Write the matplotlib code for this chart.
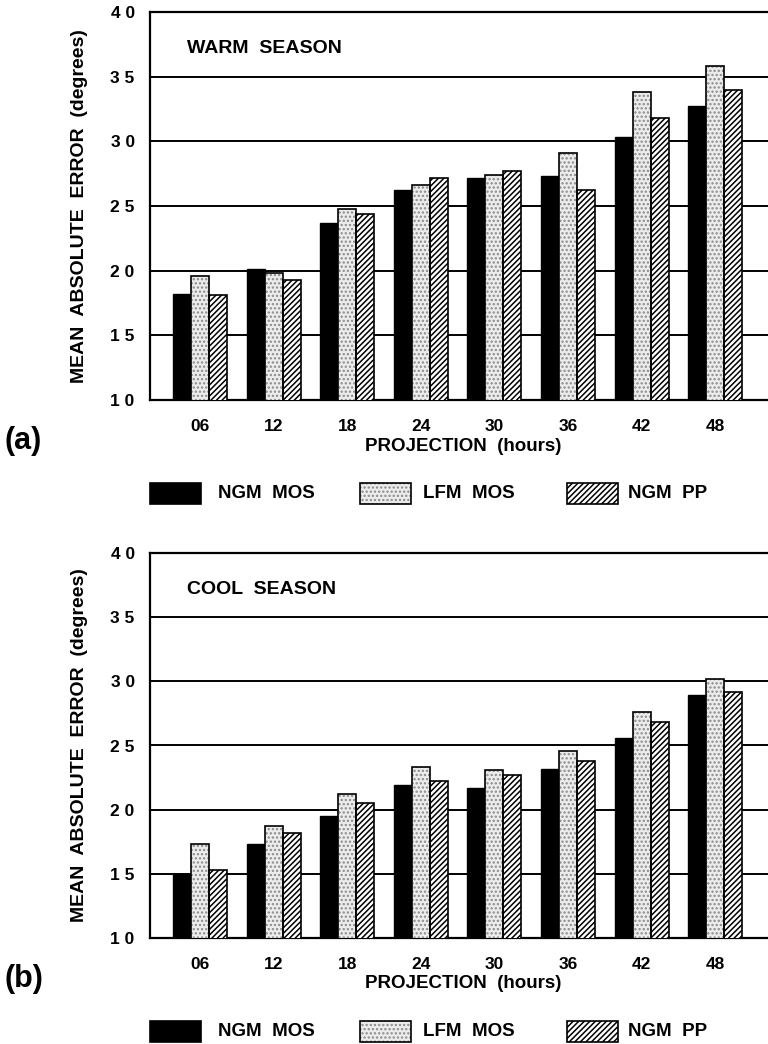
import numpy as np
import matplotlib
matplotlib.use("Agg")
import matplotlib.pyplot as plt
from matplotlib.patches import Rectangle

plt.rcParams["font.family"] = ["Liberation Sans", "DejaVu Sans"]
plt.rcParams["font.weight"] = "bold"
plt.rcParams["hatch.linewidth"] = 1.1

# --- données ---
projections = ["06", "12", "18", "24", "30", "36", "42", "48"]
series = ["NGM  MOS", "LFM  MOS", "NGM  PP"]

warm_ngm_mos = [18.2, 20.1, 23.7, 26.2, 27.2, 27.3, 30.3, 32.7]
warm_lfm_mos = [19.6, 19.8, 24.8, 26.6, 27.4, 29.1, 33.8, 35.8]
warm_ngm_pp = [18.1, 19.3, 24.4, 27.2, 27.7, 26.2, 31.8, 34.0]

cool_ngm_mos = [15.0, 17.3, 19.5, 21.9, 21.7, 23.2, 25.6, 28.9]
cool_lfm_mos = [17.3, 18.7, 21.2, 23.3, 23.1, 24.6, 27.6, 30.2]
cool_ngm_pp = [15.3, 18.2, 20.5, 22.2, 22.7, 23.8, 26.8, 29.2]

W, H = 768, 1044
fig = plt.figure(figsize=(W / 100, H / 100), dpi=100)

LFM_FACE = "#ececec"
LFM_DOTS = "#8a8a8a"


def fx(px):
    return px / W


def fy(py):
    return 1 - py / H


def draw_panel(top, bottom, values, title, tag, leg_y):
    ax = fig.add_axes([fx(150), fy(bottom), fx(785 - 150), (bottom - top) / H])
    x = np.arange(len(projections))
    w = 0.245

    ax.bar(x - w, values[0], w, color="black", edgecolor="black",
           linewidth=1.0, zorder=3)
    # pointillé du LFM : d'abord le motif gris, puis le contour noir
    ax.bar(x, values[1], w, color=LFM_FACE, edgecolor=LFM_DOTS, hatch="....",
           linewidth=0, zorder=3)
    ax.bar(x, values[1], w, fill=False, edgecolor="black", linewidth=1.2, zorder=4)
    ax.bar(x + w, values[2], w, color="white", edgecolor="black", hatch="//////",
           linewidth=1.2, zorder=3)

    ax.set_ylim(10, 40)
    ax.set_xlim(-0.68, -0.68 + 635 / 73.6)
    ax.set_yticks([10, 15, 20, 25, 30, 35, 40])
    ax.set_yticklabels(["1 0", "1 5", "2 0", "2 5", "3 0", "3 5", "4 0"])
    ax.set_xticks(x)
    ax.set_xticklabels(projections)
    ax.tick_params(length=0, labelsize=12.5)
    ax.tick_params(axis="y", pad=11)
    ax.tick_params(axis="x", pad=14)
    for lab in ax.get_xticklabels() + ax.get_yticklabels():
        lab.set_fontweight("bold")

    ax.grid(axis="y", color="black", linewidth=1.4, zorder=0)
    ax.set_axisbelow(True)
    for s in ["top", "left", "bottom"]:
        ax.spines[s].set_linewidth(1.6)
    ax.spines["right"].set_visible(False)

    ax.set_ylabel("MEAN  ABSOLUTE  ERROR  (degrees)", fontsize=14,
                  fontweight="bold")
    ax.yaxis.set_label_coords(-0.098, 0.5)
    ax.set_xlabel("PROJECTION  (hours)", fontsize=13.5, fontweight="bold")
    ax.xaxis.set_label_coords((463 - 150) / 635, -0.097)

    ax.text(0.058, 0.905, title, transform=ax.transAxes, fontsize=14,
            fontweight="bold", va="center", ha="left")

    fig.text(fx(5), fy(bottom + 41), tag, fontsize=22, fontweight="bold",
             va="center", ha="left")

    # légende dessinée à la main (espacement irrégulier comme l'original)
    hh = 21
    boxes = [(150, "black", "black", None), (360, LFM_FACE, LFM_DOTS, "...."),
             (567, "white", "black", "//////")]
    texts = [218, 423, 628]
    for (bx, fc, ec, hatch), tx, name in zip(boxes, texts, series):
        fig.patches.append(Rectangle((fx(bx), fy(leg_y + hh / 2)), fx(51), hh / H,
                                     transform=fig.transFigure, facecolor=fc,
                                     edgecolor=ec, hatch=hatch, linewidth=0))
        fig.patches.append(Rectangle((fx(bx), fy(leg_y + hh / 2)), fx(51), hh / H,
                                     transform=fig.transFigure, fill=False,
                                     edgecolor="black", linewidth=1.2))
        fig.text(fx(tx), fy(leg_y), name, fontsize=13.5, fontweight="bold",
                 va="center", ha="left")
    return ax


draw_panel(12, 400, [warm_ngm_mos, warm_lfm_mos, warm_ngm_pp],
           "WARM  SEASON", "(a)", 493)
draw_panel(553, 938, [cool_ngm_mos, cool_lfm_mos, cool_ngm_pp],
           "COOL  SEASON", "(b)", 1031)

fig.savefig("out.png", dpi=100)
